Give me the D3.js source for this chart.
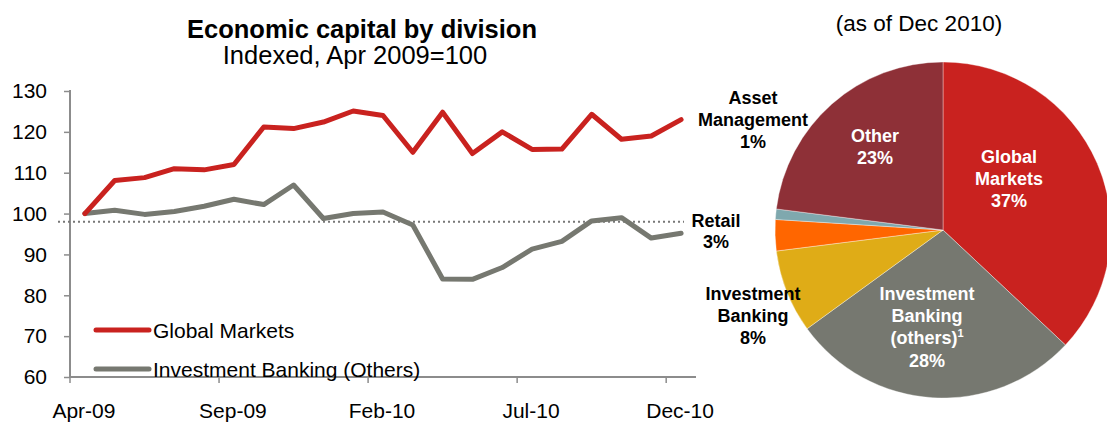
<!DOCTYPE html>
<html>
<head>
<meta charset="utf-8">
<script src="https://cdn.jsdelivr.net/npm/d3@7"></script>
<style>
  html, body { margin: 0; padding: 0; background: #fff; }
  svg { display: block; font-family: "Liberation Sans", Arial, sans-serif; }
</style>
</head>
<body>
<svg id="chart" width="1107" height="422"></svg>
<script>
// ---- Data ----
const months = ["Apr-09","May-09","Jun-09","Jul-09","Aug-09","Sep-09","Oct-09","Nov-09","Dec-09",
                "Jan-10","Feb-10","Mar-10","Apr-10","May-10","Jun-10","Jul-10","Aug-10","Sep-10",
                "Oct-10","Nov-10","Dec-10"];
const globalMarkets = [100, 108.1, 108.8, 111.0, 110.7, 112.0, 121.2, 120.8, 122.4, 125.1, 124.0,
                       115.0, 124.8, 114.7, 120.0, 115.7, 115.8, 124.3, 118.2, 119.0, 123.0];
const investmentBankingOthers = [100, 100.8, 99.8, 100.5, 101.8, 103.5, 102.2, 107.0, 98.8, 100.0, 100.4,
                                 97.2, 84.0, 83.9, 86.8, 91.3, 93.2, 98.2, 99.0, 94.0, 95.2];
const retailLevel = 98;
const xTickLabels = ["Apr-09","Sep-09","Feb-10","Jul-10","Dec-10"];
const yTicks = [60, 70, 80, 90, 100, 110, 120, 130];

const pieCategories = ["Global Markets","Investment Banking (others)","Investment Banking","Retail","Asset Management","Other"];
const pieShares = [37, 28, 8, 3, 1, 23];

// ---- Styles / layout ----
const RED = "#C9221F", GREY = "#767870", AXIS = "#8C8C8C";
const pieColors = ["#C9221F", "#767870", "#DFAC17", "#FF6600", "#7FA8AE", "#8E3037"];

const svg = d3.select("#chart");

// ---- Line chart ----
const x = d3.scaleBand().domain(months).range([70, 696]).padding(0);
const y = d3.scaleLinear().domain([60, 130]).range([377, 91]);
const cx = m => x(m) + x.bandwidth() / 2;

svg.append("text").attr("x", 362).attr("y", 38).attr("text-anchor", "middle")
  .attr("font-size", 25.5).attr("font-weight", "bold").attr("fill", "#000")
  .text("Economic capital by division");
svg.append("text").attr("x", 355).attr("y", 64).attr("text-anchor", "middle")
  .attr("font-size", 25.5).attr("fill", "#000")
  .text("Indexed, Apr 2009=100");

// y axis
const yAxis = d3.axisLeft(y).tickValues(yTicks).tickSize(6).tickPadding(17);
const gy = svg.append("g").attr("transform", "translate(70,0)").call(yAxis);
gy.select(".domain").attr("stroke", AXIS).attr("stroke-width", 2).attr("d", `M0,${y(130) - 1}V${y(60)}`);
gy.selectAll(".tick line").attr("stroke", AXIS).attr("stroke-width", 1.5);
gy.selectAll(".tick text").attr("font-size", 21).attr("fill", "#000").attr("font-family", "Liberation Sans, Arial, sans-serif");

// x axis
const gx = svg.append("g");
gx.append("line").attr("x1", x.range()[0]).attr("x2", x.range()[1])
  .attr("y1", y(60)).attr("y2", y(60)).attr("stroke", AXIS).attr("stroke-width", 2);
gx.selectAll("line.tick").data(xTickLabels).join("line").attr("class", "tick")
  .attr("x1", d => x(d)).attr("x2", d => x(d))
  .attr("y1", y(60)).attr("y2", y(60) + 6).attr("stroke", AXIS).attr("stroke-width", 1.5);
gx.selectAll("text").data(xTickLabels).join("text")
  .attr("x", d => cx(d) - 1).attr("y", 418).attr("text-anchor", "middle")
  .attr("font-size", 21).attr("fill", "#000").text(d => d);

// retail reference line
svg.append("line").attr("x1", 58).attr("x2", 684)
  .attr("y1", y(retailLevel)).attr("y2", y(retailLevel))
  .attr("stroke", "#777").attr("stroke-width", 2).attr("stroke-dasharray", "2,3");
svg.append("text").attr("x", 716).attr("text-anchor", "middle").attr("font-size", 18)
  .attr("font-weight", "bold").attr("fill", "#000")
  .selectAll("tspan").data(["Retail", "3%"]).join("tspan")
  .attr("x", 716).attr("y", (d, i) => 227 + i * 21).text(d => d);

const line = d3.line().x((d, i) => cx(months[i])).y(d => y(d));
svg.append("path").datum(investmentBankingOthers).attr("d", line)
  .attr("fill", "none").attr("stroke", GREY).attr("stroke-width", 5).attr("stroke-linejoin", "round").attr("stroke-linecap", "round");
svg.append("path").datum(globalMarkets).attr("d", line)
  .attr("fill", "none").attr("stroke", RED).attr("stroke-width", 5).attr("stroke-linejoin", "round").attr("stroke-linecap", "round");

// legend
const legend = [{name: "Global Markets", color: RED, y: 330}, {name: "Investment Banking (Others)", color: GREY, y: 369}];
const lg = svg.append("g");
lg.selectAll("line").data(legend).join("line")
  .attr("x1", 96).attr("x2", 149).attr("y1", d => d.y).attr("y2", d => d.y)
  .attr("stroke", d => d.color).attr("stroke-width", 5).attr("stroke-linecap", "round");
lg.selectAll("text").data(legend).join("text")
  .attr("x", 153).attr("y", d => d.y + 7.5).attr("font-size", 21).attr("fill", "#000").text(d => d.name);

// ---- Pie chart ----
const pieCx = 943, pieCy = 230, pieR = 168;
svg.append("text").attr("x", 919).attr("y", 31).attr("text-anchor", "middle")
  .attr("font-size", 22.5).attr("fill", "#000").text("(as of Dec 2010)");

const pie = d3.pie().sort(null).value(d => d)(pieShares);
const arc = d3.arc().innerRadius(0).outerRadius(pieR);
const pg = svg.append("g").attr("transform", `translate(${pieCx},${pieCy})`);
pg.selectAll("path").data(pie).join("path")
  .attr("d", arc).attr("fill", (d, i) => pieColors[i])
  .attr("stroke", "#fff").attr("stroke-width", 0.6).attr("stroke-opacity", 0.6);

// slice labels: lines of text with their anchor positions
const pieLabels = [
  {lines: ["Global", "Markets", pieShares[0] + "%"], x: 1009, y: 163, color: "#fff"},
  {lines: ["Investment", "Banking", "(others)", pieShares[1] + "%"], x: 927, y: 300, color: "#fff", sup: 2},
  {lines: ["Investment", "Banking", pieShares[2] + "%"], x: 753, y: 300, color: "#000"},
  {lines: ["Asset", "Management", pieShares[4] + "%"], x: 753, y: 104, color: "#000"},
  {lines: ["Other", pieShares[5] + "%"], x: 875, y: 142, color: "#fff"}
];
pieLabels.forEach(lab => {
  const t = svg.append("text").attr("text-anchor", "middle").attr("font-size", 18)
    .attr("font-weight", "bold").attr("fill", lab.color);
  lab.lines.forEach((ln, i) => {
    const row = t.append("tspan").attr("x", lab.x).attr("y", lab.y + i * 22.2);
    if (lab.sup === i) {
      row.append("tspan").text(ln);
      row.append("tspan").attr("font-size", 11).attr("dy", -7).text("1");
    } else {
      row.text(ln);
    }
  });
});
</script>
</body>
</html>
